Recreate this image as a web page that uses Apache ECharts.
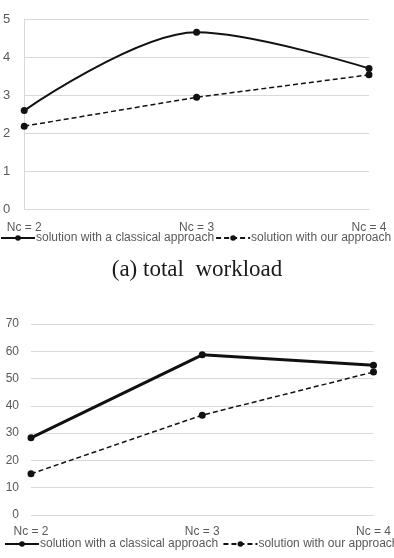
<!DOCTYPE html>
<html><head><meta charset="utf-8">
<script src="https://cdn.jsdelivr.net/npm/echarts@6/dist/echarts.min.js"></script>
<style>html,body{margin:0;padding:0;background:#fff}#c{width:394px;height:558px}</style>
</head><body><div id="c"></div>
<script>
const categories = ['Nc = 2', 'Nc = 3', 'Nc = 4'];
const seriesNames = ['solution with a classical approach', 'solution with our approach'];
const workloadClassical = [2.59, 4.65, 3.70];
const workloadOurs = [2.18, 2.94, 3.53];
const secondClassical = [28.3, 58.7, 54.9];
const secondOurs = [15.1, 36.6, 52.4];
const caption = '(a) total  workload';

const txt = '#595959', grid = '#d9d9d9', ink = '#111';
const font = 'Liberation Sans';
const chart = echarts.init(document.getElementById('c'));
function xAx(gi){return {type:'category',gridIndex:gi,data:categories,boundaryGap:false,
  axisLine:{show:gi===0,lineStyle:{color:grid}},axisTick:{show:false},
  axisLabel:{color:txt,fontSize:12,fontFamily:font,margin:gi===0?13:11}};}
chart.setOption({
  animation:false,
  grid:[{left:22,right:25,top:19,bottom:349},{left:31,right:18,top:324,bottom:43}],
  xAxis:[xAx(0),xAx(1)],
  yAxis:[
    {type:'value',gridIndex:0,min:0,max:5,interval:1,
     axisLine:{show:true,lineStyle:{color:grid}},axisTick:{show:false},
     splitLine:{lineStyle:{color:grid,width:1}},
     axisLabel:{color:txt,fontSize:13,fontFamily:font,margin:14}},
    {type:'value',gridIndex:1,min:0,max:70,interval:10,
     axisLine:{show:false},axisTick:{show:false},
     splitLine:{lineStyle:{color:grid,width:1}},
     axisLabel:{color:txt,fontSize:12,fontFamily:font,margin:12}}
  ],
  legend:[
    {left:0,top:232,width:600,itemWidth:34,itemHeight:7,itemGap:1,
     data:seriesNames,textStyle:{color:txt,fontSize:12,fontFamily:font,padding:[0,0,0,-4]},
     padding:0},
    {left:4,top:538,width:600,itemWidth:34,itemHeight:7,itemGap:1,
     data:[{name:seriesNames[0]+' '},{name:seriesNames[1]+' '}],
     textStyle:{color:txt,fontSize:12,fontFamily:font,padding:[0,0,0,-4]},padding:0}
  ],
  title:{text:caption,left:'center',top:253,
    textStyle:{fontFamily:'Liberation Serif',fontSize:23,fontWeight:'normal',color:'#1a1a1a'}},
  series:[
    {name:seriesNames[0],type:'line',xAxisIndex:0,yAxisIndex:0,data:workloadClassical,smooth:0.33,
     symbol:'circle',symbolSize:7,itemStyle:{color:ink},lineStyle:{color:ink,width:2}},
    {name:seriesNames[1],type:'line',xAxisIndex:0,yAxisIndex:0,data:workloadOurs,
     symbol:'circle',symbolSize:7,itemStyle:{color:ink},lineStyle:{color:ink,width:1.5,type:[5,3]}},
    {name:seriesNames[0]+' ',type:'line',xAxisIndex:1,yAxisIndex:1,data:secondClassical,
     symbol:'circle',symbolSize:7,itemStyle:{color:ink},lineStyle:{color:ink,width:3}},
    {name:seriesNames[1]+' ',type:'line',xAxisIndex:1,yAxisIndex:1,data:secondOurs,
     symbol:'circle',symbolSize:7,itemStyle:{color:ink},lineStyle:{color:ink,width:1.5,type:[5,3]}}
  ]
});
</script></body></html>
